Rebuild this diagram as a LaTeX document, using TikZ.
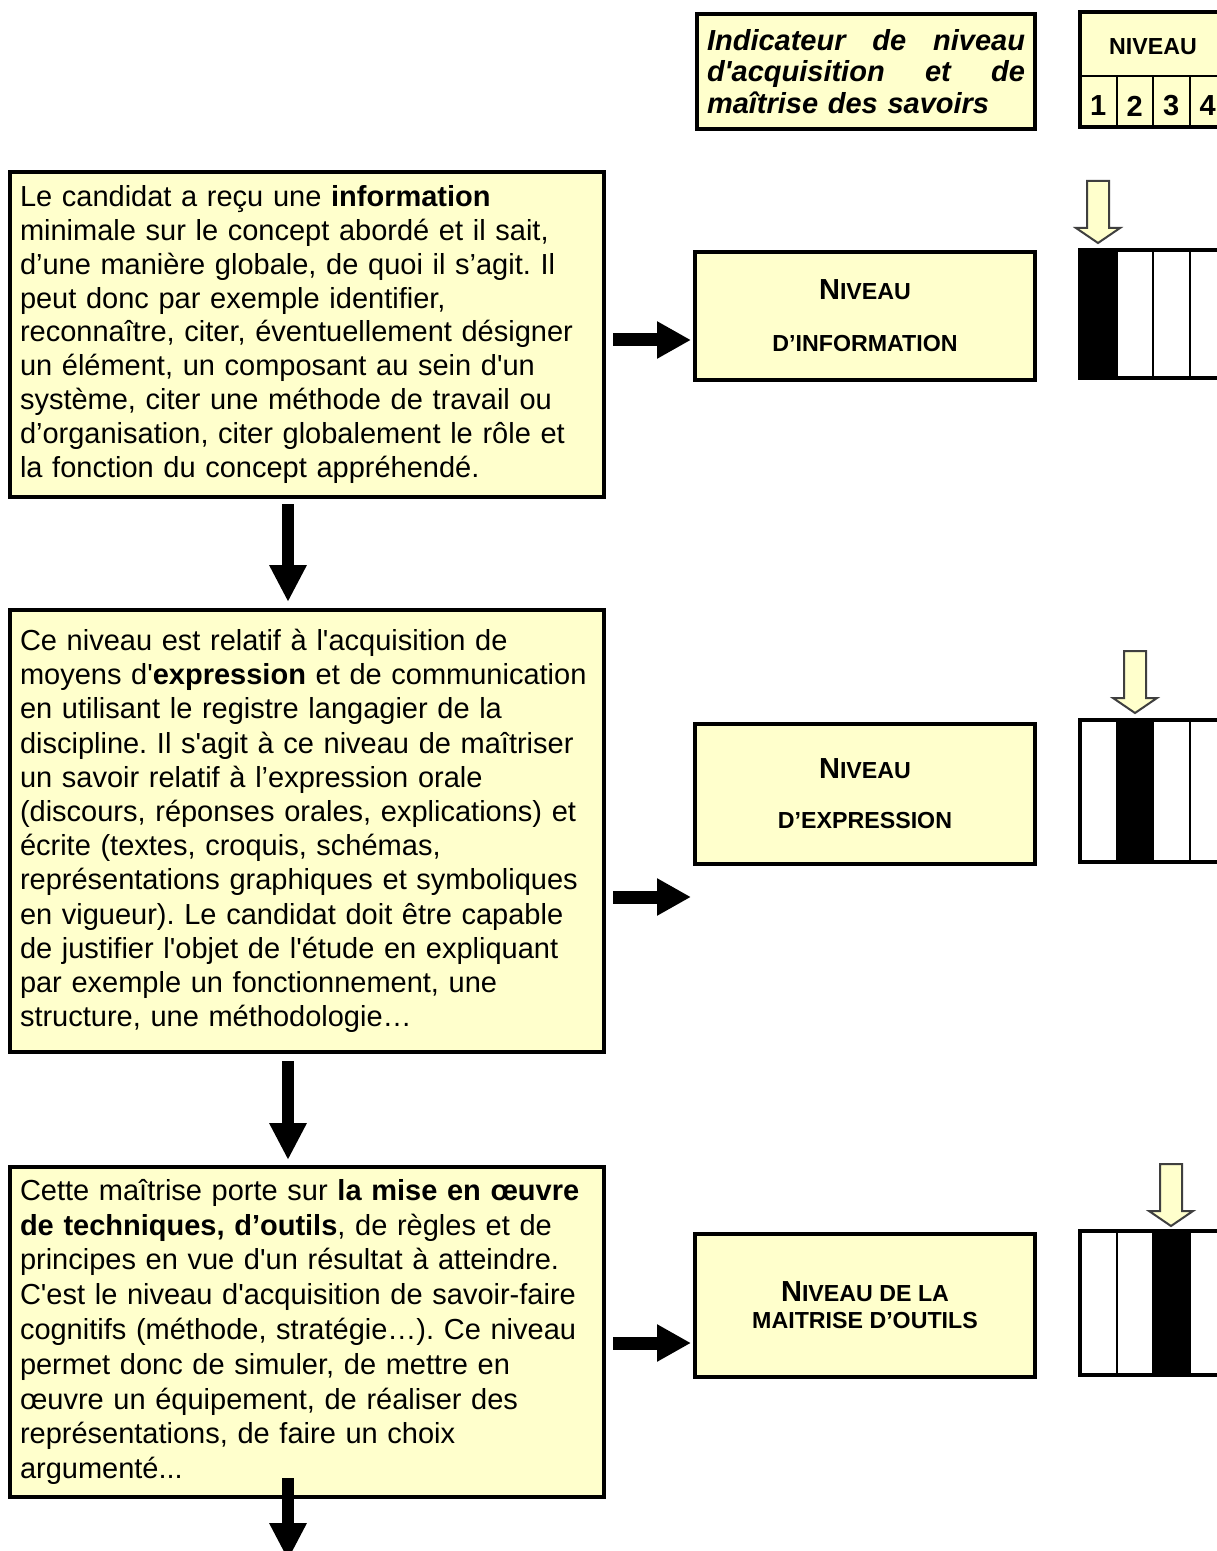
\documentclass[tikz,border=0pt]{standalone}
\usepackage{fontspec}
\setmainfont{Liberation Sans}[Ligatures=TeXOff]
\usetikzlibrary{arrows.meta,calc}
\definecolor{jaune}{HTML}{FFFFCC}
\definecolor{contour}{HTML}{3F3F3F}
\newcommand{\corps}{\fontsize{14.5}{16.9}\selectfont}
\newcommand{\petit}[1]{{\fontsize{11.6}{13}\selectfont #1}}
\frenchspacing

\tikzset{
  boite/.style={draw, line width=2pt, fill=jaune},
  txtbox/.style={boite, anchor=north west, align=left, text width=287pt, inner xsep=5pt, inner ysep=0pt, font=\corps},
  lvlbox/.style={boite, anchor=north west, minimum width=170pt, align=center},
  flechenoire/.style={line width=6.5pt, -{Triangle[length=17pt,width=17.5pt]}},
  flechebas/.style={line width=6pt, -{Triangle[length=18.5pt,width=17.5pt]}},
  flechejaune/.style={draw=contour, line width=1pt, fill=jaune},
}

\begin{document}
\begin{tikzpicture}[x=0.5pt, y=-0.5pt]
  \useasboundingbox[fill=white] (0,0) rectangle (1216,1551);

  % En-tete : indicateur
  \node[boite, anchor=north west, minimum height=57.5pt, text width=159pt, inner xsep=5pt, align=left,
        font=\fontsize{14.5}{15.6}\selectfont\bfseries\itshape] (titre) at (695,12)
    {\makebox[159pt][l]{Indicateur\hfill de\hfill niveau}\\
     \makebox[159pt][l]{d'acquisition\hfill et\hfill de}\\
     maîtrise des savoirs};

  % En-tete : tableau des niveaux
  \fill[jaune] (1080,12) rectangle (1226,127);
  \draw[line width=1pt] (1080,76) -- (1226,76);
  \foreach \x in {1116.5,1153,1189.5} \draw[line width=1pt] (\x,76) -- (\x,127);
  \draw[line width=2pt] (1080,12) rectangle (1226,127);
  \node[font=\bfseries\fontsize{11.6}{13}\selectfont] (niv) at (1153,47) {NIVEAU};
  \foreach \n in {1,...,4}
    \node[font=\bfseries\corps] (n\n) at ({1061.75+36.5*\n},106) {\n};

  % Descriptions
  \node[txtbox, minimum height=162.5pt] (txt1) at (8,170) {%
    Le candidat a reçu une \textbf{information}\\
    minimale sur le concept abordé et il sait,\\
    d’une manière globale, de quoi il s’agit. Il\\
    peut donc par exemple identifier,\\
    reconnaître, citer, éventuellement désigner\\
    un élément, un composant au sein d'un\\
    système, citer une méthode de travail ou\\
    d’organisation, citer globalement le rôle et\\
    la fonction du concept appréhendé.};
  \node[txtbox, minimum height=221pt, font=\fontsize{14.5}{17.1}\selectfont] (txt2) at (8,608) {%
    Ce niveau est relatif à l'acquisition de\\
    moyens d'\textbf{expression} et de communication\\
    en utilisant le registre langagier de la\\
    discipline. Il s'agit à ce niveau de maîtriser\\
    un savoir relatif à l’expression orale\\
    (discours, réponses orales, explications) et\\
    écrite (textes, croquis, schémas,\\
    représentations graphiques et symboliques\\
    en vigueur). Le candidat doit être capable\\
    de justifier l'objet de l'étude en expliquant\\
    par exemple un fonctionnement, une\\
    structure, une méthodologie…};
  \node[txtbox, minimum height=165pt, font=\fontsize{14.5}{17.4}\selectfont] (txt3) at (8,1165) {%
    Cette maîtrise porte sur \textbf{la mise en œuvre}\\
    \textbf{de techniques, d’outils}, de règles et de\\
    principes en vue d'un résultat à atteindre.\\
    C'est le niveau d'acquisition de savoir-faire\\
    cognitifs (méthode, stratégie…). Ce niveau\\
    permet donc de simuler, de mettre en\\
    œuvre un équipement, de réaliser des\\
    représentations, de faire un choix\\
    argumenté...};

  % Niveaux
  \node[lvlbox, minimum height=64pt, font=\bfseries\fontsize{14.5}{26}\selectfont] (lvl1) at (693,250)
    {N\petit{IVEAU}\\ \petit{D’INFORMATION}};
  \node[lvlbox, minimum height=70pt, font=\bfseries\fontsize{14.5}{25}\selectfont] (lvl2) at (693,722)
    {N\petit{IVEAU}\\ \petit{D’EXPRESSION}};
  \node[lvlbox, minimum height=71.5pt, font=\bfseries\fontsize{14.5}{13.5}\selectfont] (lvl3) at (693,1232)
    {N\petit{IVEAU DE LA}\\ \petit{MAITRISE D’OUTILS}};

  % Barres de niveau
  \foreach \haut/\bas/\k in {250/378/1, 720/862/2, 1231/1375/3}{
    \fill[white] (1080,\haut) rectangle (1226,\bas);
    \fill[black] ({1080+36.5*(\k-1)},\haut) rectangle ++(36.5,\bas-\haut);
    \foreach \x in {1116.5,1153,1189.5} \draw[line width=1pt] (\x,\haut) -- (\x,\bas);
    \draw[line width=2pt] (1080,\haut) rectangle (1226,\bas);
  }

  % Fleches jaunes
  \foreach \cx/\ty in {1098/181, 1135/651, 1171/1164}
    \draw[flechejaune] (\cx-11,\ty) -- (\cx+11,\ty) -- (\cx+11,\ty+47) -- (\cx+22,\ty+47)
      -- (\cx,\ty+62) -- (\cx-22,\ty+47) -- (\cx-11,\ty+47) -- cycle;

  % Fleches noires
  \draw[flechenoire] ($(txt1.east |- 0,340)+(7,0)$) -- ($(lvl1.west |- 0,340)+(-2,0)$);
  \draw[flechenoire] ($(txt2.east |- 0,897)+(7,0)$) -- ($(lvl2.west |- 0,897)+(-2,0)$);
  \draw[flechenoire] ($(txt3.east |- 0,1343)+(7,0)$) -- ($(lvl3.west |- 0,1343)+(-2,0)$);

  \coordinate (axe) at (288,0);
  \coordinate (fin) at (288,1560);
  \draw[flechebas] ($(axe |- txt1.south)+(0,5)$) -- ($(axe |- txt2.north)+(0,-6)$);
  \draw[flechebas] ($(axe |- txt2.south)+(0,7)$) -- ($(axe |- txt3.north)+(0,-5)$);
  \draw[flechebas] ($(axe |- txt3.south)+(0,-21)$) -- (fin);
\end{tikzpicture}
\end{document}
